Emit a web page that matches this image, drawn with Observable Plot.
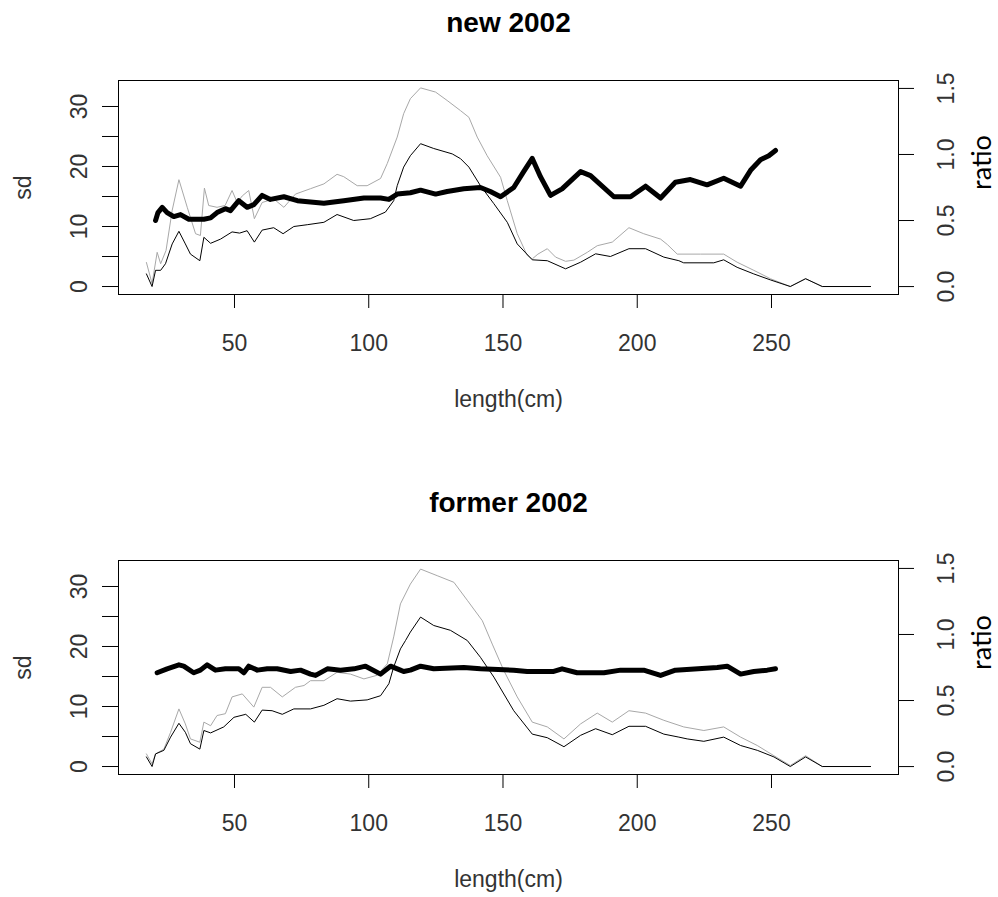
<!DOCTYPE html>
<html>
<head>
<meta charset="utf-8">
<script src="https://cdn.jsdelivr.net/npm/d3@7"></script>
<script src="https://cdn.jsdelivr.net/npm/@observablehq/plot@0.6"></script>
<style>
  html, body { margin: 0; padding: 0; background: white; }
  #chart svg { display: block; }
</style>
</head>
<body>
<div id="chart"></div>
<script>
// ---- data ----
const xTicks = [50, 100, 150, 200, 250];
const sdTicks = [0, 5, 10, 15, 20, 25, 30];
const sdLabels = [0, 10, 20, 30];
const ratioTicks = [0, 0.5, 1.0, 1.5];
const titles = ["new 2002", "former 2002"];

// [length, sd] - light grey thin line
const newGray = [[17.2,4.0],[19.3,0.5],[21.2,5.7],[22.5,3.8],[24.5,6],[26.8,12.7],[29.3,17.8],[32.4,13.2],[35.5,8.8],[37.3,8.5],[38.8,16.4],[40.4,13.5],[43.5,13.2],[46.5,13.5],[49.1,16],[51,14],[52.9,15.1],[55.3,16],[57.4,11.3],[60.3,14],[64.6,14.6],[68.4,13.2],[72.7,15.4],[78.3,16.3],[83.3,17.1],[88.2,18.7],[90.7,18.3],[95.7,16.8],[99.4,16.8],[104.4,18],[106.9,20.5],[110.6,24.9],[113,28.8],[115.5,31.3],[119.3,33.1],[124.9,32.4],[129.2,31],[134.2,29.3],[137.3,28.2],[140.4,24.9],[144.1,21.8],[149.1,18.2],[151.6,14.3],[155.3,8.8],[159,5.2],[160.9,4.6],[163,5.4],[166.5,6.3],[169.6,4.9],[173.3,4.2],[176.4,4.4],[181.4,5.7],[185.1,6.8],[190.7,7.4],[196.9,9.8],[202.4,8.8],[208.7,7.9],[211.2,7],[214.9,5.4],[223.6,5.4],[232.2,5.4],[237.2,4.05],[243.4,2.7],[249.6,1.3],[257,0],[262.7,1.3],[268.9,0],[286.9,0]];
// [length, sd] - black thin line
const newBlack = [[17.2,2.1],[19.3,0],[20.6,2.7],[22.5,2.7],[24.3,3.8],[26.8,7.1],[29.3,9.2],[31.7,7.1],[33.6,5.4],[37.1,4.3],[38.6,8.2],[41.1,7.2],[44.8,7.9],[49.1,9.1],[51.9,8.9],[54.7,9.3],[57.4,7.4],[60.3,9.4],[64.6,9.8],[68.1,8.8],[72.1,10],[77.1,10.3],[83.3,10.7],[88.2,12],[94.4,11],[100.6,11.3],[106.2,12.4],[109.3,14.3],[110.6,16.8],[113,19.9],[115.5,21.8],[119.3,23.8],[124.2,23],[131.1,22.1],[134.2,21.3],[137.3,19.9],[141.6,16.8],[146.6,13.8],[151.6,10.7],[155.3,7.1],[160.9,4.45],[166.5,4.3],[173.3,2.95],[178.9,4.05],[184.5,5.45],[190,5],[196.9,6.3],[203.1,6.3],[209.9,4.9],[215.5,4.3],[217.3,3.95],[228.5,3.95],[232.2,4.45],[237.2,3.2],[243.4,2.1],[249.6,1.1],[257,0],[262.7,1.3],[268.9,0],[286.9,0]];
// [length, ratio] - thick black line (right axis)
const newRatio = [[20.6,0.5],[21.5,0.56],[23.1,0.6],[24.9,0.56],[27.4,0.53],[29.9,0.545],[33,0.51],[38.6,0.51],[41.1,0.52],[43.5,0.56],[46.6,0.59],[48.5,0.575],[51.6,0.65],[54.7,0.6],[57.2,0.62],[60.3,0.69],[63.4,0.66],[68.4,0.68],[73.4,0.65],[78.3,0.64],[83.3,0.63],[90.7,0.65],[98.2,0.67],[104.4,0.67],[107.5,0.66],[110.6,0.7],[115.5,0.71],[119.3,0.73],[124.9,0.7],[129.2,0.72],[135.4,0.74],[141.6,0.75],[145.3,0.72],[149.1,0.68],[154,0.75],[157.7,0.87],[160.9,0.97],[164,0.83],[167.7,0.69],[172,0.74],[178.9,0.87],[182.6,0.84],[191.3,0.68],[197.5,0.68],[203.1,0.76],[208.7,0.67],[214.2,0.79],[219.8,0.81],[226,0.77],[232.2,0.82],[238.5,0.76],[242.2,0.88],[245.9,0.96],[249,0.99],[251.5,1.03]];

const formerGray = [[17.2,2.1],[19.3,0.45],[20.6,2.1],[23.7,2.9],[26.2,5.7],[29.3,9.6],[31.7,7.1],[33.6,4.6],[37.1,4.05],[38.6,7.4],[41.1,6.8],[43.5,8.5],[46.6,8.8],[49.1,11.6],[52.9,12.1],[57.2,9.9],[60.3,13.2],[63.4,13.2],[67.8,11.6],[72.7,13.2],[75.9,13.5],[78.3,14.3],[83.3,14.3],[88.2,15.7],[93.2,15.4],[98.2,14.6],[103.1,15.2],[106.9,17.1],[109.3,21.6],[111.8,27.1],[115.5,30.4],[119.3,32.9],[125.5,31.8],[131.7,30.7],[136.7,27.7],[142.3,24.3],[146,20.4],[150.3,16],[155.3,11.6],[160.9,7.4],[166.5,6.6],[172.7,4.6],[178.9,7.1],[185.1,8.9],[190.7,7.4],[196.9,9.3],[203.1,8.9],[209.9,7.7],[217.3,6.6],[224.8,6],[232.2,6.6],[238.5,4.9],[244.7,3.5],[250.9,1.8],[257,0.17],[262.7,1.8],[268.9,0],[286.9,0]];
const formerBlack = [[17.2,1.6],[19.3,0],[20.6,2.1],[23.7,2.7],[26.2,4.9],[29.3,7.2],[31.7,5.7],[33.6,3.8],[37.1,2.9],[38.6,6],[41.1,5.6],[46,6.6],[49.8,8.2],[54.2,8.7],[57.4,7.4],[60.3,9.4],[64,9.3],[67.8,8.7],[72.1,9.6],[78.3,9.6],[83.3,10.2],[88.2,11.3],[93.2,10.9],[99.4,11.1],[104.4,11.8],[107.5,13.8],[109.3,16.6],[111.8,19.6],[113.7,21],[115.5,22.4],[119.3,24.9],[124.2,23.5],[130.4,22.7],[136.7,21],[141.6,18.2],[146.6,14.9],[154,9.3],[160.9,5.4],[166.5,4.8],[172.7,3.3],[178.9,5.2],[184.5,6.3],[190.7,5.3],[196.9,6.7],[203.1,6.7],[209.9,5.4],[215.5,4.9],[218.6,4.6],[224.8,4.2],[232.2,4.9],[238.5,3.5],[244.7,2.7],[250.9,1.6],[257,0],[262.7,1.6],[268.9,0],[286.9,0]];
const formerRatio = [[21.2,0.71],[24.9,0.74],[29.3,0.77],[31.1,0.76],[34.8,0.71],[37.3,0.73],[39.8,0.77],[42.9,0.73],[46.6,0.74],[51.6,0.74],[53.5,0.71],[55.3,0.76],[58.5,0.73],[62.2,0.74],[65.9,0.74],[70.9,0.72],[74.6,0.73],[78.3,0.7],[80.2,0.69],[84.6,0.74],[89.5,0.73],[94.5,0.74],[98.8,0.76],[104.4,0.7],[108.1,0.76],[111.8,0.73],[113,0.72],[115.5,0.73],[119.3,0.76],[124.2,0.74],[135.4,0.75],[141.6,0.74],[154,0.73],[159,0.72],[168.9,0.72],[172,0.74],[177.6,0.71],[187.6,0.71],[193.8,0.73],[202.4,0.73],[208.7,0.69],[214.2,0.73],[229.8,0.75],[233.5,0.76],[238.5,0.7],[243.4,0.72],[248.4,0.73],[251.5,0.74]];

// ---- scales ----
const xDomain = [6.8, 297.3];
const sdDomain = [-1.33, 34.33];
const ratioDomain = [-0.06, 1.56];
const K = (sdDomain[1] - sdDomain[0]) / (ratioDomain[1] - ratioDomain[0]);
const r2sd = r => sdDomain[0] + (r - ratioDomain[0]) * K;

const FONT = "'Liberation Sans', Arial, Helvetica, sans-serif";
const TXT = "#333";
const C = {textAnchor: "middle", lineAnchor: "middle"};

function panel(title, gray, black, ratio, height) {
  return Plot.plot({
    width: 998,
    height,
    marginLeft: 118,
    marginRight: 100,
    marginTop: 80,
    marginBottom: height - 294,
    style: {fontFamily: FONT, fontSize: "23px", background: "white", color: "black", overflow: "visible"},
    x: {domain: xDomain, label: null},
    y: {domain: sdDomain, label: null},
    marks: [
      Plot.frame({stroke: "black", strokeWidth: 1}),
      // bottom axis
      Plot.axisX(xTicks, {anchor: "bottom", tickSize: 14, tickPadding: 26, stroke: "black", fill: TXT, fontSize: 23, label: null}),
      // left axis ticks + labels
      Plot.axisY(sdTicks, {anchor: "left", tickSize: 16, stroke: "black", fill: "none", label: null}),
      Plot.text(sdLabels, {...C, y: d => d, text: d => String(d), frameAnchor: "left", dx: -39, rotate: -90, fill: TXT, fontSize: 23}),
      // right axis (ratio) ticks + labels
      Plot.axisY(ratioTicks.map(r2sd), {anchor: "right", tickSize: 15, stroke: "black", fill: "none", label: null}),
      Plot.text(ratioTicks, {...C, y: r2sd, text: d => d3.format(".1f")(d), frameAnchor: "right", dx: 48, rotate: -90, fill: TXT, fontSize: 23}),
      // axis titles
      Plot.text(["sd"], {...C, frameAnchor: "left", dx: -95, rotate: -90, fill: TXT, fontSize: 23}),
      Plot.text(["ratio"], {...C, frameAnchor: "right", dx: 84, dy: -25, rotate: -90, fill: "black", fontSize: 27, fontFamily: "Lato, 'Open Sans', sans-serif"}),
      Plot.text(["length(cm)"], {...C, frameAnchor: "bottom", dy: 105, fill: TXT, fontSize: 23}),
      Plot.text([title], {...C, frameAnchor: "top", dy: -57, fill: "black", fontSize: 28, fontWeight: "bold"}),
      // series
      Plot.line(gray, {x: d => d[0], y: d => d[1], stroke: "#a8a8a8", strokeWidth: 1}),
      Plot.line(black, {x: d => d[0], y: d => d[1], stroke: "black", strokeWidth: 1}),
      Plot.line(ratio, {x: d => d[0], y: d => r2sd(d[1]), stroke: "black", strokeWidth: 5, strokeLinejoin: "round", strokeLinecap: "round"})
    ]
  });
}

const root = document.getElementById("chart");
root.append(panel(titles[0], newGray, newBlack, newRatio, 480));
root.append(panel(titles[1], formerGray, formerBlack, formerRatio, 417));
</script>
</body>
</html>
